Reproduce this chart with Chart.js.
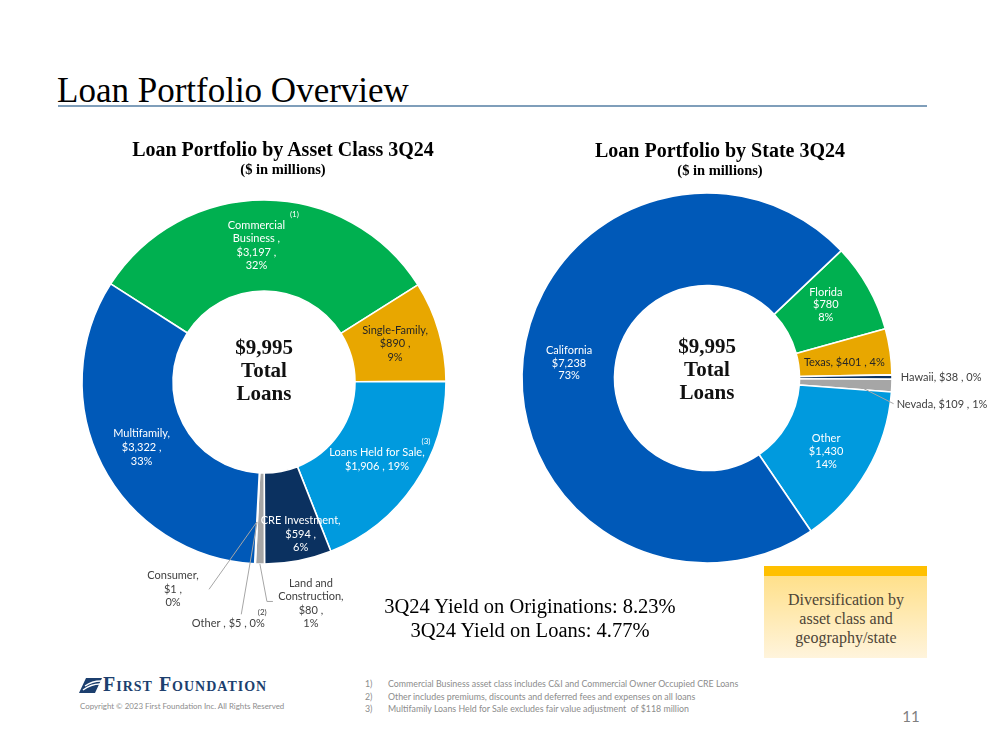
<!DOCTYPE html>
<html>
<head>
<meta charset="utf-8">
<script src="https://cdn.jsdelivr.net/npm/chart.js@4.4.1/dist/chart.umd.min.js"></script>
<style>
  html, body { margin: 0; padding: 0; background: #fff; }
  #page { position: relative; width: 999px; height: 750px; overflow: hidden; font-family: "Liberation Serif", serif; color: #000; }
  .abs { position: absolute; white-space: nowrap; }
  .mid { transform: translate(-50%, -50%); text-align: center; }
  canvas { position: absolute; }
  .sans { font-family: Lato, "Open Sans", sans-serif; }
</style>
</head>
<body>
<div id="page">
  <canvas id="assetChart" width="500" height="520" style="left:14px; top:122px;"></canvas>
  <canvas id="stateChart" width="580" height="520" style="left:417px; top:118px;"></canvas>

  <div class="abs" style="left:57px; top:71px; font-size:35px; line-height:40px;">Loan Portfolio Overview</div>
  <div class="abs" style="left:58px; top:105px; width:869px; height:2px; background:#7f9eba;"></div>

  <div class="abs mid" style="left:283px; top:149px; font-size:20px; line-height:24px; font-weight:bold;">Loan Portfolio by Asset Class 3Q24</div>
  <div class="abs mid" style="left:283px; top:169px; font-size:14.5px; line-height:18px; font-weight:bold;">($ in millions)</div>
  <div class="abs mid" style="left:720px; top:150px; font-size:20px; line-height:24px; font-weight:bold;">Loan Portfolio by State 3Q24</div>
  <div class="abs mid" style="left:720px; top:170px; font-size:14.5px; line-height:18px; font-weight:bold;">($ in millions)</div>

  <div class="abs mid" style="left:530px; top:606px; font-size:20.5px; line-height:24px;">3Q24 Yield on Originations: 8.23%</div>
  <div class="abs mid" style="left:530px; top:630px; font-size:20.5px; line-height:24px;">3Q24 Yield on Loans: 4.77%</div>

  <div class="abs" style="left:764px; top:566px; width:163px; height:92px; background:linear-gradient(#ffe08a 10%, #fff4dc);">
    <div style="height:10px; background:#ffc000;"></div>
  </div>
  <div class="abs mid" style="left:846px; top:618px; font-size:16px; line-height:19px; color:#4d4436;">Diversification by<br>asset class and<br>geography/state</div>

  <svg class="abs" style="left:79px; top:677px;" width="24" height="17" viewBox="0 0 24 17">
    <path d="M0 16 L7 1 L23 1 L16 16 Z" fill="#1c3f6e"/>
    <path d="M6 9 Q13 4 22 4" stroke="#fff" stroke-width="1.4" fill="none"/>
    <path d="M4 13 Q12 7 21 7" stroke="#fff" stroke-width="1.4" fill="none"/>
  </svg>
  <div class="abs" style="left:103px; top:673px; font-size:20px; line-height:23px; font-weight:bold; font-variant:small-caps; letter-spacing:1px; color:#1c3f6e;">First Foundation</div>
  <div class="abs sans" style="left:80px; top:700px; font-size:7.9px; line-height:12px; color:#8c8c8c;">Copyright © 2023 First Foundation Inc. All Rights Reserved</div>

  <div class="abs sans" style="left:365px; top:678px; font-size:8.8px; line-height:12.5px; color:#8c8c8c;">1)<br>2)<br>3)</div>
  <div class="abs sans" style="left:388px; top:678px; font-size:8.8px; line-height:12.5px; color:#8c8c8c;">Commercial Business asset class includes C&amp;I and Commercial Owner Occupied CRE Loans<br>Other includes premiums, discounts and deferred fees and expenses on all loans<br>Multifamily Loans Held for Sale excludes fair value adjustment&nbsp; of $118 million</div>

  <div class="abs mid sans" style="left:911px; top:716px; font-size:15px; line-height:18px; color:#7f7f7f;">11</div>
</div>

<script>
// Asset class donut (3Q24, $ in millions)
const assetNames = ["Commercial\nBusiness ", "Single-Family", "Loans Held for Sale", "CRE Investment", "Land and\nConstruction", "Other ", "Consumer", "Multifamily"];
const assetValues = [3197, 890, 1906, 594, 80, 5, 1, 3322];
const assetPercents = ["32%", "9%", "19%", "6%", "1%", "0%", "0%", "33%"];

// State donut (3Q24, $ in millions)
const stateNames = ["Florida", "Texas", "Hawaii", "Nevada", "Other", "California"];
const stateValues = [780, 401, 38, 109, 1430, 7238];
const statePercents = ["8%", "4%", "0%", "1%", "14%", "73%"];

const totalLoans = 9995;

const assetColors = ["#00b050", "#e8a700", "#009ade", "#0b3160", "#a6a6a6", "#a6a6a6", "#0059b8", "#0059b8"];
const stateColors = ["#00b050", "#e8a700", "#0b3160", "#a6a6a6", "#009ade", "#0059b8"];

const money = v => "$" + v.toLocaleString("en-US");

function labelLines(mode, name, value, pct) {
  const parts = name.split("\n");
  if (mode === "stack") {
    parts[parts.length - 1] += ",";
    return [...parts, money(value) + " ,", pct];
  }
  if (mode === "pair") return [name + ",", money(value) + " , " + pct];
  if (mode === "inline") return [name + ", " + money(value) + " , " + pct];
  return [...parts, money(value), pct]; // "plain"
}

// per-slice label placement, offsets from the ring centroid
const assetLayout = [
  { mode: "stack", dx: -8, dy: 0, color: "#fff", note: "(1)", ndx: 38, ndy: -31 },
  { mode: "stack", dx: 0, dy: 0, color: "#262626" },
  { mode: "pair", dx: 0, dy: 1, color: "#fff", note: "(3)", ndx: 49, ndy: -18 },
  { mode: "stack", dx: 11, dy: 18, color: "#fff" },
  { mode: "stack", dx: 50, dy: 85, color: "#404040", line: [[-38, -2], [-44, -2]], lineT: 1 },
  { mode: "inline", dx: -29, dy: 105, color: "#404040", note: "(2)", ndx: 34, ndy: -11, line: [[13, -9]], lineT: 0.54 },
  { mode: "stack", dx: -84, dy: 71, color: "#404040", line: [[36, 0]], lineT: 0.54 },
  { mode: "stack", dx: -1, dy: 3, color: "#fff" }
];

const stateLayout = [
  { mode: "plain", dx: -2, dy: -5, color: "#fff" },
  { mode: "inline", dx: 0, dy: 4, color: "#262626" },
  { mode: "inline", dx: 55, dy: 0, color: "#404040", align: "left" },
  { mode: "inline", dx: 51, dy: 21, color: "#404040", align: "left", line: [[-3, -1]], lineT: 0.6 },
  { mode: "plain", dx: -1, dy: 4, color: "#fff" },
  { mode: "plain", dx: 0, dy: 0, color: "#fff" }
];

const sliceLabels = {
  id: "sliceLabels",
  afterDatasetsDraw(chart, args, opts) {
    const ctx = chart.ctx;
    const meta = chart.getDatasetMeta(0);
    const values = chart.data.datasets[0].data;
    ctx.save();
    ctx.textBaseline = "middle";
    meta.data.forEach((arc, i) => {
      const p = arc.getProps(["x", "y", "startAngle", "endAngle", "innerRadius", "outerRadius"], true);
      const a = (p.startAngle + p.endAngle) / 2;
      const r = (p.innerRadius + p.outerRadius) / 2;
      const cx = p.x + Math.cos(a) * r;
      const cy = p.y + Math.sin(a) * r;
      const lay = opts.layout[i];
      const lx = cx + lay.dx, ly = cy + lay.dy;

      if (lay.line) {
        const rr = p.innerRadius + (p.outerRadius - p.innerRadius) * lay.lineT;
        ctx.beginPath();
        ctx.strokeStyle = "#a6a6a6";
        ctx.lineWidth = 1;
        lay.line.forEach((pt, k) => {
          if (k === 0) ctx.moveTo(lx + pt[0], ly + pt[1]);
          else ctx.lineTo(lx + pt[0], ly + pt[1]);
        });
        ctx.lineTo(p.x + Math.cos(a) * rr, p.y + Math.sin(a) * rr);
        ctx.stroke();
      }

      const lines = labelLines(lay.mode, opts.names[i], values[i], opts.percents[i]);
      const lh = opts.lineHeight;
      ctx.font = opts.font;
      ctx.fillStyle = lay.color;
      ctx.textAlign = lay.align || "center";
      const y0 = ly - (lines.length - 1) * lh / 2;
      lines.forEach((t, k) => ctx.fillText(t, lx, y0 + k * lh));

      if (lay.note) {
        ctx.font = opts.noteFont;
        ctx.textAlign = "center";
        ctx.fillText(lay.note, lx + lay.ndx, ly + lay.ndy);
      }
    });

    // centre caption
    ctx.font = "bold 21px 'Liberation Serif', serif";
    ctx.fillStyle = "#111";
    ctx.textAlign = "center";
    const c = meta.data[0];
    const centre = [money(totalLoans), "Total", "Loans"];
    centre.forEach((t, k) => ctx.fillText(t, c.x, c.y + opts.centerDy + (k - 1) * 23));
    ctx.restore();
  }
};

function makeDonut(id, names, values, colors, rotation, labelOpts) {
  return new Chart(document.getElementById(id), {
    type: "doughnut",
    data: {
      labels: names,
      datasets: [{
        data: values,
        backgroundColor: colors,
        borderColor: "#ffffff",
        borderWidth: 1.6
      }]
    },
    options: {
      responsive: false,
      animation: false,
      radius: 182,
      cutout: "50%",
      rotation: rotation,
      layout: { padding: 0 },
      plugins: {
        legend: { display: false },
        tooltip: { enabled: false },
        sliceLabels: labelOpts
      }
    },
    plugins: [sliceLabels]
  });
}

makeDonut("assetChart", assetNames, assetValues, assetColors, -57.4, {
  layout: assetLayout,
  names: assetNames,
  percents: assetPercents,
  font: "11px Lato, 'Open Sans', sans-serif",
  noteFont: "8px Lato, 'Open Sans', sans-serif",
  lineHeight: 13.6,
  centerDy: -10
});

const stateChart = makeDonut("stateChart", stateNames, stateValues, stateColors, 46.5, {
  layout: stateLayout,
  names: stateNames,
  percents: statePercents,
  font: "11px Lato, 'Open Sans', sans-serif",
  noteFont: "8px Lato, 'Open Sans', sans-serif",
  lineHeight: 12.8,
  centerDy: -7
});
stateChart.options.radius = 185;
stateChart.update();
</script>
</body>
</html>
